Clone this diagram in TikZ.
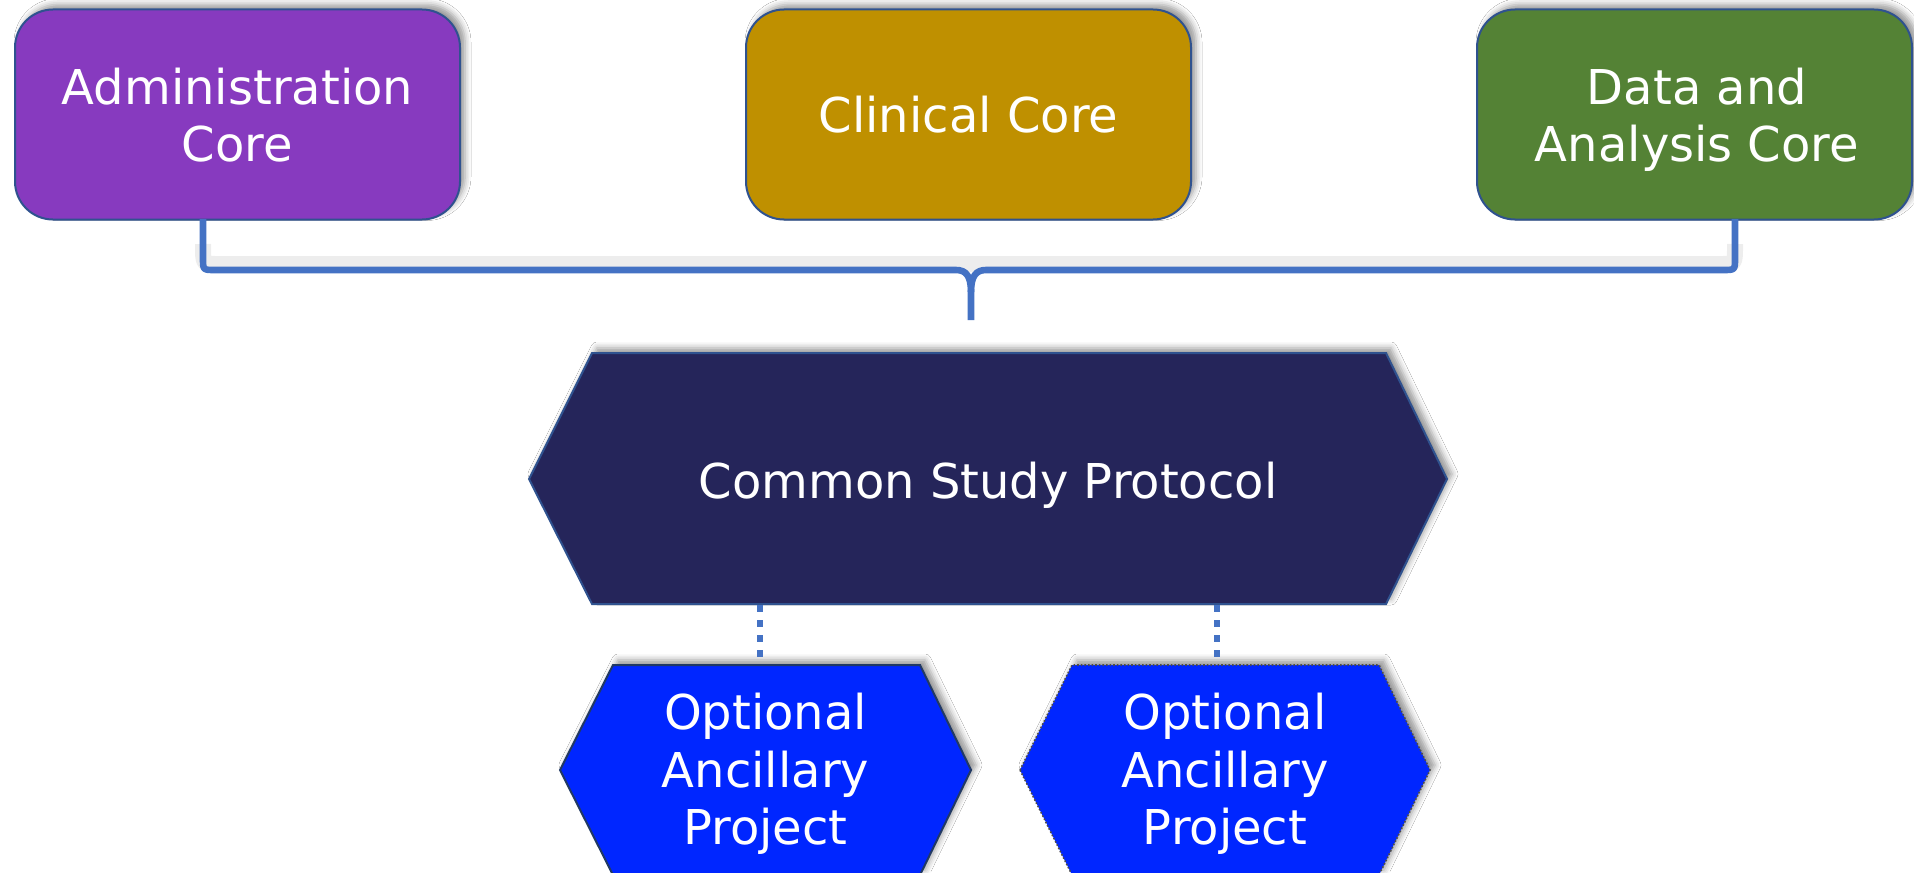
\documentclass[tikz,border=0pt]{standalone}
\usepackage{fontspec}
\setmainfont{DejaVu Sans}
\usetikzlibrary{shadows.blur}
\definecolor{adminc}{HTML}{873ABF}
\definecolor{clinc}{HTML}{BF9000}
\definecolor{datac}{HTML}{548235}
\definecolor{cspc}{HTML}{25255A}
\definecolor{oapc}{HTML}{0026FF}
\definecolor{linec}{HTML}{4472C4}
\definecolor{bordc}{HTML}{2F528F}
\begin{document}
\begin{tikzpicture}[x=0.5pt,y=-0.5pt,
 softshadow/.style={blur shadow={shadow xshift=2.5pt,shadow yshift=2.5pt,shadow blur radius=3pt,shadow opacity=40}},
 corebox/.style={shape=rectangle, rounded corners=19pt, draw=bordc, line width=1pt, inner sep=0pt, minimum height=105pt, softshadow},
 lbl/.style={text=white, font=\fontsize{24}{28.75}\selectfont, align=center, inner sep=0pt},
 hexbig/.style={fill=cspc, draw=bordc, line width=1pt, softshadow},
 hexsmall/.style={fill=oapc, draw=bordc!70!black, line width=1pt, softshadow},
 hexdot/.style={fill=oapc, draw=black!70, line width=0.8pt, densely dotted, softshadow},
 bracestyle/.style={draw=linec, line width=3.3pt, line join=round},
 braceshade/.style={draw=black, opacity=0.07, line width=8pt, line join=round},
 dotline/.style={draw=linec, line width=3.3pt, dash pattern=on 3.5pt off 4pt},
]
\useasboundingbox (0,0) rectangle (1914,872);
\fill[white] (0,0) rectangle (1914,872);

% top core boxes
\node[corebox, fill=adminc, minimum width=222.5pt] (admin) at (237.5,114.5) {};
\node[corebox, fill=clinc, minimum width=222.5pt] (clin) at (968.5,114.5) {};
\node[corebox, fill=datac, minimum width=217.5pt] (data) at (1694.5,114.5) {};
\node[lbl] (adminlbl) at (237.5,115) {Administration\\Core};
\node[lbl] (clinlbl) at (968.5,114.8) {Clinical Core};
\node[lbl] (datalbl) at (1697,120) {Data and\\Analysis Core};

% bracket
\coordinate (bl) at (203,219);
\coordinate (br) at (1735,219);
\coordinate (bt) at (971,320);
\begin{scope}[yshift=3pt]
\draw[braceshade] (203,250) .. controls (203,270) .. (215,270) -- (1723,270) .. controls (1735,270) .. (1735,250);
\end{scope}
\draw[bracestyle] (bl) -- (203,258) .. controls (203,270) .. (215,270) -- (956,270) .. controls (966,270) and (971,276) .. (971,292) -- (bt);
\draw[bracestyle] (br) -- (1735,258) .. controls (1735,270) .. (1723,270) -- (986,270) .. controls (976,270) and (971,276) .. (971,292);

% common study protocol
\path[hexbig] (529,479) -- (592,353) -- (1386,353) -- (1447,479) -- (1386,604) -- (592,604) -- cycle;
\node[lbl] (csp) at (988,484.8) {Common Study Protocol};

% optional ancillary projects
\path[hexsmall] (560,770) -- (613,665) -- (920,665) -- (971,770) -- (920,875) -- (613,875) -- cycle;
\path[hexdot] (1020,770) -- (1072,665) -- (1379,665) -- (1430,770) -- (1379,875) -- (1072,875) -- cycle;
\node[lbl] (oap1) at (765.5,773.8) {Optional\\Ancillary\\Project};
\node[lbl] (oap2) at (1225,773.8) {Optional\\Ancillary\\Project};

% dotted links
\coordinate (d1a) at (760,605);
\coordinate (d1b) at (760,664);
\coordinate (d2a) at (1217,605);
\coordinate (d2b) at (1217,664);
\draw[dotline] (d1a) -- (d1b);
\draw[dotline] (d2a) -- (d2b);
\end{tikzpicture}
\end{document}
